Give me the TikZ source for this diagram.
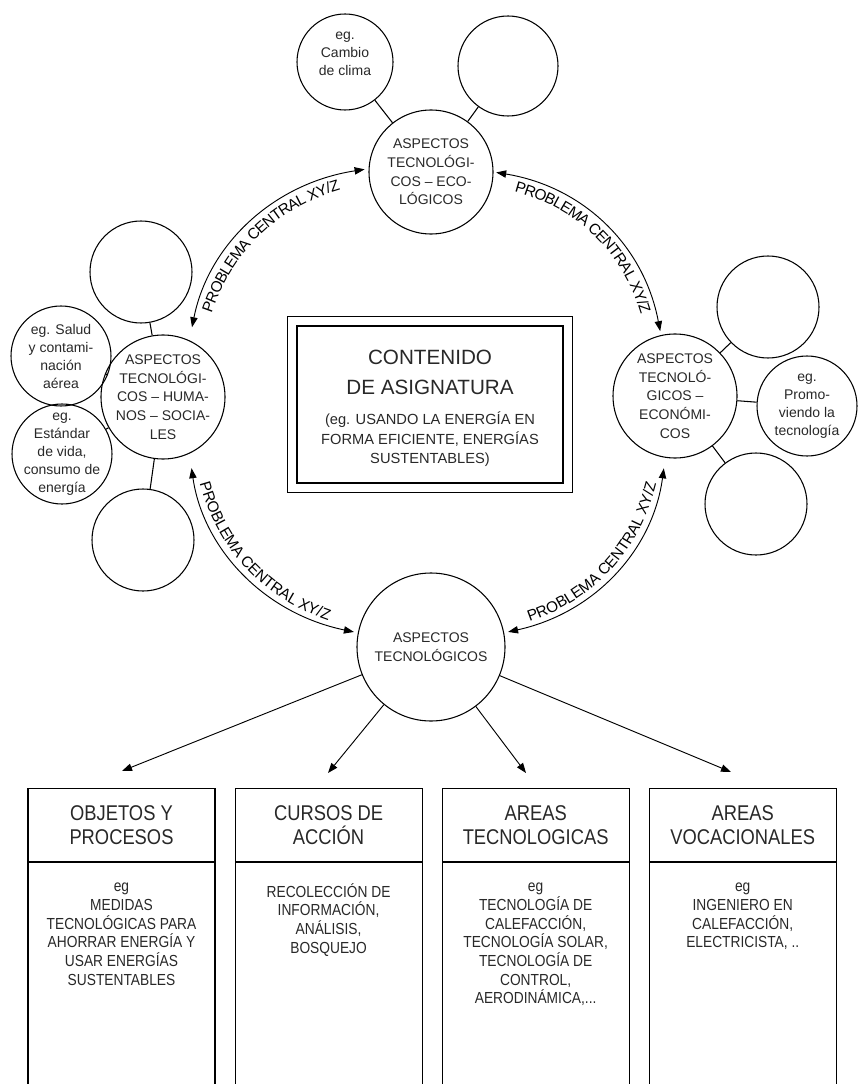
\documentclass[tikz,border=0pt]{standalone}
\usepackage{fontspec}
\setmainfont{Liberation Sans}
\newfontfamily\narrowfont[FakeStretch=0.86]{Liberation Sans}
\usetikzlibrary{positioning,arrows.meta,fit,calc,decorations.text}
\definecolor{inkcol}{RGB}{40,40,40}

\begin{document}
\begin{tikzpicture}[
  x=0.75pt, y=0.75pt,
  font=\fontsize{10.5}{14}\selectfont,
  >={Triangle[length=7.5pt,width=5.5pt]},
  aspect/.style={circle, draw, line width=0.8pt, align=center, inner sep=-14pt, text=inkcol},
  bigc/.style={aspect, minimum size=93pt},
  smallc/.style={aspect, minimum size=75pt, font=\fontsize{10.5}{13.5}\selectfont},
  link/.style={line width=0.8pt},
  flow/.style={->, line width=0.7pt},
  problema/.style={<->, line width=0.7pt, postaction={decorate,
      decoration={text along path, text align=center, raise=#1,
        text={|\fontsize{11.5}{13}\selectfont|PROBLEMA CENTRAL XY/Z}}}},
  colhead/.style={draw, line width=0.8pt, minimum width=140.25pt, minimum height=54.75pt,
                  align=center, inner sep=0pt, text=inkcol,
                  font=\narrowfont\fontsize{16}{18}\selectfont},
  colbody/.style={draw, line width=0.8pt, minimum width=140.25pt, minimum height=180pt},
  coltext/.style={align=center, inner sep=0pt, text=inkcol,
                  font=\narrowfont\fontsize{12}{14}\selectfont},
]
\useasboundingbox (0,0) rectangle (862,-1084);

% ---------- central content box ----------
\node[draw, line width=0.8pt, minimum width=199.5pt, minimum height=117.75pt,
      inner sep=0pt, text=inkcol] (contenido) at (430,-404.5)
  {\parbox{195pt}{\centering\vspace*{6pt}
   \fontsize{15.5}{22.5}\selectfont CONTENIDO\\ DE ASIGNATURA\par\vspace{8pt}
   \fontsize{11}{14.5}\selectfont (eg. USANDO LA ENERGÍA EN\\ FORMA EFICIENTE, ENERGÍAS\\ SUSTENTABLES)\par}};
\node[draw, line width=0.8pt, fit=(contenido), inner sep=6.5pt] (contenidoF) {};

% ---------- ecological aspects (top) ----------
\node[bigc] (eco) at (431,-172) {ASPECTOS\\ TECNOLÓGI-\\ COS -- ECO-\\ LÓGICOS};
\node[smallc, minimum size=72pt, text depth=12pt] (clima) at (345,-62) {eg.\\ Cambio\\ de clima};
\node[smallc] (ecoR) at (508,-66) {};
\draw[link] (eco) -- (clima);
\draw[link] (eco) -- (ecoR);

% ---------- human / social aspects (left) ----------
\node[bigc] (hum) at (163,-397) {ASPECTOS\\ TECNOLÓGI-\\ COS -- HUMA-\\ NOS -- SOCIA-\\ LES};
\node[smallc, minimum size=76.5pt] (humA) at (141,-272) {};
\node[smallc] (salud) at (61,-356) {eg. Salud\\ y contami-\\ nación\\ aérea};
\node[smallc] (estandar) at (62,-454) {eg.\\ Estándar\\ de vida,\\ consumo de\\ energía};
\node[smallc, minimum size=76.5pt] (humB) at (143,-540) {};
\foreach \c in {humA,salud,estandar,humB} \draw[link] (hum) -- (\c);

% ---------- economic aspects (right) ----------
\node[bigc] (econ) at (675,-396) {ASPECTOS\\ TECNOLÓ-\\ GICOS --\\ ECONÓMI-\\ COS};
\node[smallc, minimum size=76.5pt] (econA) at (768,-307) {};
\node[smallc] (promo) at (807,-406) {eg.\\ Promo-\\ viendo la\\ tecnología};
\node[smallc, minimum size=76.5pt] (econB) at (756,-504) {};
\foreach \c in {econA,promo,econB} \draw[link] (econ) -- (\c);

% ---------- technological aspects (bottom) ----------
\node[aspect, minimum size=111pt] (tech) at (431,-647) {ASPECTOS\\ TECNOLÓGICOS};

% ---------- central problem arcs ----------
\draw[problema=-11pt, shorten <=10pt, shorten >=3pt] (hum.65) to[bend left=35] (eco.177);
\draw[problema=-11pt, shorten <=2pt, shorten >=3pt] (eco.0) to[bend left=35] (econ.103);
\draw[problema=3pt, shorten <=11pt, shorten >=3pt] (hum.-65) to[bend right=35] (tech.169);
\draw[problema=3pt, shorten <=3pt, shorten >=8pt] (tech.11) to[bend right=35] (econ.-99);

% ---------- four columns ----------
\node[colhead, anchor=north] (objetos) at (121.5,-788) {OBJETOS Y\\ PROCESOS};
\node[colhead, right=14.25pt of objetos] (cursos) {CURSOS DE\\ ACCIÓN};
\node[colhead, right=14.25pt of cursos] (areasT) {AREAS\\ TECNOLOGICAS};
\node[colhead, right=14.25pt of areasT] (areasV) {AREAS\\ VOCACIONALES};
\foreach \c in {objetos,cursos,areasT,areasV}
  \node[colbody, anchor=north] (\c B) at (\c.south) {};

\node[coltext, anchor=north] (objetosT) at ($(objetosB.north)+(0,-21)$)
  {eg\\ MEDIDAS\\ TECNOLÓGICAS PARA\\ AHORRAR ENERGÍA Y\\ USAR ENERGÍAS\\ SUSTENTABLES};
\node[coltext, anchor=north] (cursosT) at ($(cursosB.north)+(0,-21)$)
  {RECOLECCIÓN DE\\ INFORMACIÓN,\\ ANÁLISIS,\\ BOSQUEJO};
\node[coltext, anchor=north] (areasTT) at ($(areasTB.north)+(0,-21)$)
  {eg\\ TECNOLOGÍA DE\\ CALEFACCIÓN,\\ TECNOLOGÍA SOLAR,\\ TECNOLOGÍA DE\\ CONTROL,\\ AERODINÁMICA,...};
\node[coltext, anchor=north] (areasVT) at ($(areasVB.north)+(0,-21)$)
  {eg\\ INGENIERO EN\\ CALEFACCIÓN,\\ ELECTRICISTA, ..};

% ---------- arrows to the columns ----------
\coordinate (tipA) at (122,-771);
\coordinate (tipB) at (328,-773);
\coordinate (tipC) at (526,-773);
\coordinate (tipD) at (731,-772);
\foreach \t in {tipA,tipB,tipC,tipD} \draw[flow] (tech) -- (\t);

\end{tikzpicture}
\end{document}
